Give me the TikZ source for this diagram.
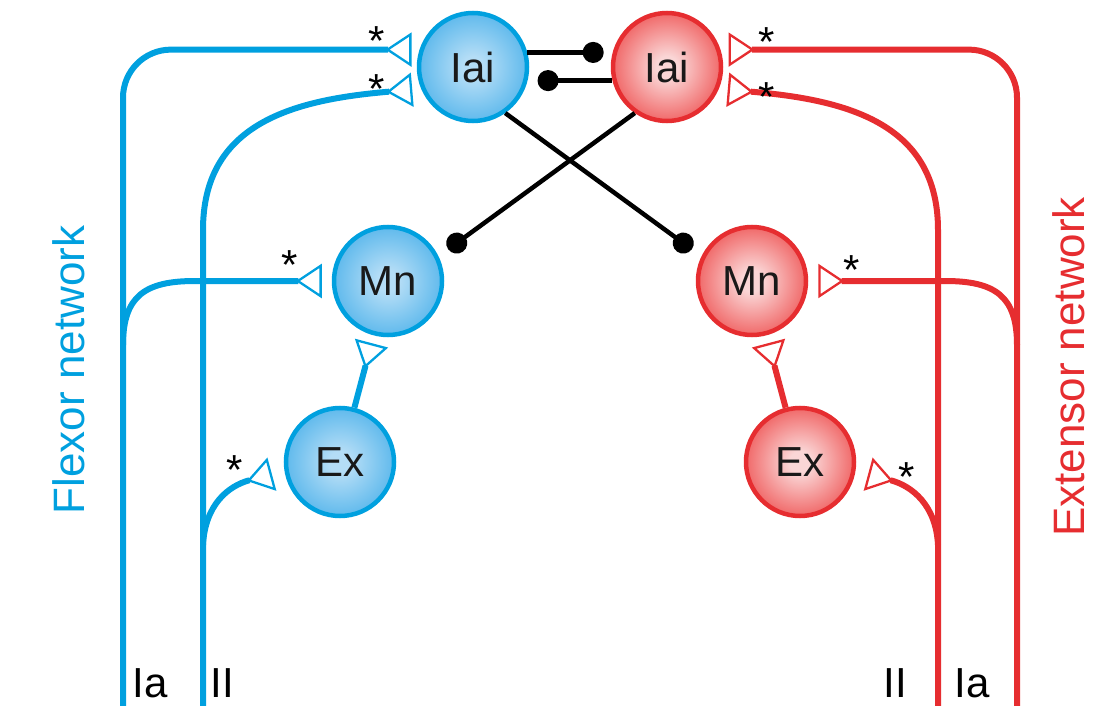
\documentclass[tikz,border=0pt]{standalone}
\usepackage{fontspec}
\setmainfont{Liberation Sans}
\usetikzlibrary{arrows.meta}
\definecolor{bl}{RGB}{0,160,223}
\definecolor{blc1}{RGB}{180,221,246}
\definecolor{blm}{RGB}{92,184,236}
\definecolor{blc2}{RGB}{36,162,226}
\definecolor{rd}{RGB}{230,45,48}
\definecolor{rdc1}{RGB}{250,214,214}
\definecolor{rdm}{RGB}{240,100,100}
\definecolor{rdc2}{RGB}{232,48,50}
\pgfdeclareradialshading{cellblue}{\pgfpoint{0bp}{0bp}}{color(0bp)=(blc1); color(5bp)=(blc1); color(26bp)=(blm); color(50bp)=(blc2)}
\pgfdeclareradialshading{cellred}{\pgfpoint{0bp}{0bp}}{color(0bp)=(rdc1); color(5bp)=(rdc1); color(26bp)=(rdm); color(50bp)=(rdc2)}
\tikzset{
  cell/.style={circle, minimum size=108pt, inner sep=0pt, line width=4.5pt, text=black!90, font=\fontsize{42}{42}\selectfont},
  bcell/.style={cell, draw=bl, shading=cellblue},
  rcell/.style={cell, draw=rd, shading=cellred},
  bax/.style={draw=bl, line width=6pt},
  rax/.style={draw=rd, line width=6pt},
  exc/.style={-{Triangle[open, reversed, length=26pt, width=34pt, line width=2.3pt]}},
  inh/.style={draw=black, line width=4.5pt, -{Circle[length=21pt]}},
  star/.style={anchor=base, inner sep=0pt, font=\fontsize{42}{42}\selectfont},
  fiber/.style={anchor=base, inner sep=0pt, font=\fontsize{42}{42}\selectfont},
  side/.style={rotate=90, inner sep=0pt, font=\fontsize{44}{44}\selectfont}
}
\begin{document}
\begin{tikzpicture}[x=1pt, y=-1pt]
\useasboundingbox (0,0) rectangle (1112,706);
% cells
\node[bcell] (BIai) at (473,67) {Iai};
\node[rcell] (RIai) at (667,67) {Iai};
\node[bcell] (BMn) at (388,281) {Mn};
\node[rcell] (RMn) at (752,281) {Mn};
\node[bcell] (BEx) at (340,462) {Ex};
\node[rcell] (REx) at (800,462) {Ex};
% fibre ends
\coordinate (bIa) at (123,706);
\coordinate (bII) at (203,706);
\coordinate (rIa) at (1017,706);
\coordinate (rII) at (938,706);
% flexor (blue) afferents
\draw[bax, exc, rounded corners=48pt, shorten >=8pt] (bIa) |- (BIai.162);
\draw[bax, exc, shorten >=9pt] (bII) -- (203,230) .. controls (203,125) and (290,100) .. (BIai.203);
\draw[bax, exc, shorten >=10pt] (123,345) .. controls (123,296) and (145,281) .. (195,281) -- (BMn.west);
\draw[bax, exc, shorten >=13pt] (203,545) .. controls (205,505) and (228,486) .. (BEx.189);
\draw[bax, exc, shorten >=8pt] (BEx) -- (BMn);
% extensor (red) afferents
\draw[rax, exc, rounded corners=48pt, shorten >=8pt] (rIa) |- (RIai.18);
\draw[rax, exc, shorten >=9pt] (rII) -- (938,230) .. controls (938,125) and (850,100) .. (RIai.-23);
\draw[rax, exc, shorten >=10pt] (1017,345) .. controls (1017,296) and (995,281) .. (945,281) -- (RMn.east);
\draw[rax, exc, shorten >=13pt] (938,545) .. controls (936,505) and (912,486) .. (REx.-9);
\draw[rax, exc, shorten >=8pt] (REx) -- (RMn);
% inhibitory connections
\draw[inh, shorten >=9pt] (BIai.15) -- (RIai.165);
\draw[inh, shorten >=10pt] (RIai.194) -- (BIai.-14);
\draw[inh, shorten >=12pt] (BIai.-55) -- (RMn.154);
\draw[inh, shorten >=12pt] (RIai.235) -- (BMn.26);
% asterisks
\node[star] (s1) at (377,56) {*};
\node[star] (s2) at (377,104) {*};
\node[star] (s3) at (290,279) {*};
\node[star] (s4) at (235,484) {*};
\node[star] (s5) at (767,57) {*};
\node[star] (s6) at (767,112) {*};
\node[star] (s7) at (852,284) {*};
\node[star] (s8) at (907,491) {*};
% fibre labels
\node[fiber] (lIaB) at (150,697) {Ia};
\node[fiber] (lIIB) at (222,697) {II};
\node[fiber] (lIIR) at (895,697) {II};
\node[fiber] (lIaR) at (972,697) {Ia};
% network labels
\node[side, text=bl] (flex) at (69,370) {Flexor network};
\node[side, text=rd] (ext) at (1069,367) {Extensor network};
\end{tikzpicture}
\end{document}
